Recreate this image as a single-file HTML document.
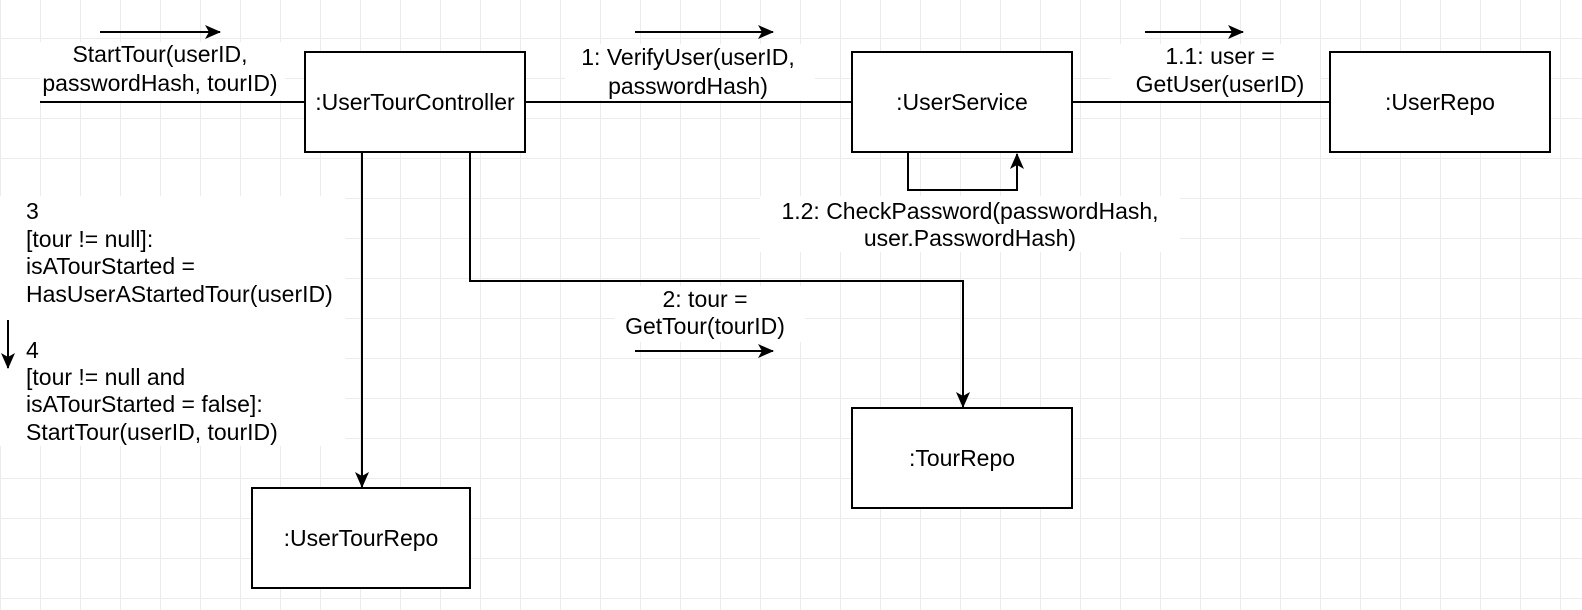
<!DOCTYPE html>
<html><head><style>
html,body{margin:0;padding:0;background:#fff}
body{width:1582px;height:610px;overflow:hidden;
background-image:linear-gradient(#ececec 1px,transparent 1px),linear-gradient(90deg,#ececec 1px,transparent 1px);
background-size:40px 40px;background-position:0 -2px}
svg{position:absolute;left:0;top:0}
text{font-family:"Liberation Sans",Arial,sans-serif;font-size:23px;fill:#000}
</style></head><body>
<svg width="1582" height="610" xmlns="http://www.w3.org/2000/svg">
<defs><marker id="a" markerWidth="18" markerHeight="14" refX="15" refY="7" orient="auto" markerUnits="userSpaceOnUse"><path d="M0,0 L16,7 L0,14 L4,7 z" fill="#000"/></marker></defs>
<g fill="#fff">
<rect x="40" y="42" width="245" height="58"/>
<rect x="565" y="44" width="250" height="56"/>
<rect x="1110" y="44" width="210" height="56"/>
<rect x="760" y="196" width="420" height="56"/>
<rect x="615" y="286" width="190" height="56"/>
<rect x="0" y="196" width="345" height="250"/>
</g>
<g stroke="#000" stroke-width="2" fill="none">
<rect x="305" y="52" width="220" height="100" fill="#fff"/>
<rect x="852" y="52" width="220" height="100" fill="#fff"/>
<rect x="1330" y="52" width="220" height="100" fill="#fff"/>
<rect x="852" y="408" width="220" height="100" fill="#fff"/>
<rect x="252" y="488" width="218" height="100" fill="#fff"/>
<line x1="40" y1="102" x2="305" y2="102"/>
<line x1="525" y1="102" x2="852" y2="102"/>
<line x1="1072" y1="102" x2="1330" y2="102"/>
<line x1="100" y1="32" x2="220" y2="32" marker-end="url(#a)"/>
<line x1="635" y1="32" x2="773" y2="32" marker-end="url(#a)"/>
<line x1="1145" y1="32" x2="1243" y2="32" marker-end="url(#a)"/>
<line x1="635" y1="351" x2="773" y2="351" marker-end="url(#a)"/>
<polyline points="908,152 908,190 1017,190 1017,154" marker-end="url(#a)"/>
<line x1="362" y1="152" x2="362" y2="487" marker-end="url(#a)"/>
<polyline points="470,152 470,281 963,281 963,407" marker-end="url(#a)"/>
<line x1="8" y1="320" x2="8" y2="368" marker-end="url(#a)"/>
</g>
<g text-anchor="middle">
<text x="160" y="62">StartTour(userID,</text>
<text x="160" y="91">passwordHash, tourID)</text>
<text x="415" y="110">:UserTourController</text>
<text x="688" y="65">1: VerifyUser(userID,</text>
<text x="688" y="94">passwordHash)</text>
<text x="962" y="110">:UserService</text>
<text x="1220" y="64">1.1: user =</text>
<text x="1220" y="92">GetUser(userID)</text>
<text x="1440" y="110">:UserRepo</text>
<text x="970" y="219">1.2: CheckPassword(passwordHash,</text>
<text x="970" y="246">user.PasswordHash)</text>
<text x="705" y="307">2: tour =</text>
<text x="705" y="334">GetTour(tourID)</text>
<text x="962" y="466">:TourRepo</text>
<text x="361" y="546">:UserTourRepo</text>
</g>
<g>
<text x="26" y="219">3</text>
<text x="26" y="247">[tour != null]:</text>
<text x="26" y="274">isATourStarted =</text>
<text x="26" y="302">HasUserAStartedTour(userID)</text>
<text x="26" y="358">4</text>
<text x="26" y="385">[tour != null and</text>
<text x="26" y="412">isATourStarted = false]:</text>
<text x="26" y="440">StartTour(userID, tourID)</text>
</g>
</svg>
</body></html>
